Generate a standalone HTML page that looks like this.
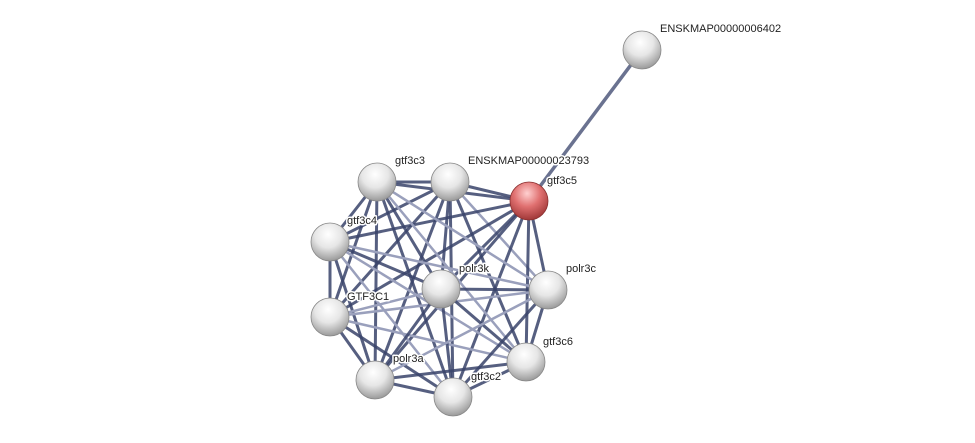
<!DOCTYPE html>
<html><head><meta charset="utf-8"><style>
html,body{margin:0;padding:0;background:#fff;width:975px;height:443px;overflow:hidden}
text{font-family:"Liberation Sans",sans-serif;font-size:11px;fill:#222;stroke:#fff;stroke-width:3px;paint-order:stroke;stroke-linejoin:round}
</style></head><body>
<svg width="975" height="443" viewBox="0 0 975 443">
<defs>
<radialGradient id="g" cx="45%" cy="30%" r="70%">
<stop offset="0" stop-color="#ffffff"/><stop offset="0.5" stop-color="#e6e6e6"/><stop offset="1" stop-color="#9a9a9a"/>
</radialGradient>
<radialGradient id="r" cx="45%" cy="30%" r="70%">
<stop offset="0" stop-color="#ffd0d0"/><stop offset="0.5" stop-color="#e07070"/><stop offset="1" stop-color="#a03838"/>
</radialGradient>
</defs>
<g stroke-linecap="round">
<line x1="529" y1="201" x2="642" y2="50" stroke="#6a7290" stroke-width="3.5"/>
<g id="edges"></g>
</g>
<g id="nodes"></g>
<text x="660" y="32">ENSKMAP00000006402</text>
<text x="468" y="164">ENSKMAP00000023793</text>
<text x="547" y="184">gtf3c5</text>
<text x="395" y="164">gtf3c3</text>
<text x="347" y="224">gtf3c4</text>
<text x="459" y="272">polr3k</text>
<text x="566" y="272">polr3c</text>
<text x="347" y="300">GTF3C1</text>
<text x="543" y="345">gtf3c6</text>
<text x="393" y="362">polr3a</text>
<text x="471" y="380">gtf3c2</text>
</svg>
<script>
var N={a:[450,182],b:[529,201],c:[377,182],d:[330,242],e:[330,317],f:[441,289],g:[548,290],h:[526,362],i:[375,380],j:[453,397]};
var k=Object.keys(N),ns="http://www.w3.org/2000/svg",E=document.getElementById("edges");
var light=["g-e","g-d","g-c","h-d","h-c","i-g","j-d","e-h","g-a","f-e"];
for(var x=0;x<k.length;x++)for(var y=x+1;y<k.length;y++){
var p=N[k[x]],q=N[k[y]],l=document.createElementNS(ns,"line");
l.setAttribute("x1",p[0]);l.setAttribute("y1",p[1]);l.setAttribute("x2",q[0]);l.setAttribute("y2",q[1]);
var key=k[x]+"-"+k[y],key2=k[y]+"-"+k[x];
var lt=light.indexOf(key)>=0||light.indexOf(key2)>=0;
l.setAttribute("stroke",lt?"#9aa0bc":"#38436a");l.setAttribute("stroke-opacity",lt?"1":"0.85");l.setAttribute("stroke-width",lt?"2.5":"3");
E.appendChild(l);}
var G=document.getElementById("nodes");
var all=Object.assign({z:[642,50]},N);
for(var n in all){var c=document.createElementNS(ns,"circle");
c.setAttribute("cx",all[n][0]);c.setAttribute("cy",all[n][1]);c.setAttribute("r",19);
c.setAttribute("fill",n=="b"?"url(#r)":"url(#g)");c.setAttribute("stroke",n=="b"?"#8a3030":"#888");c.setAttribute("stroke-width","0.8");
G.appendChild(c);}
</script>
</body></html>
